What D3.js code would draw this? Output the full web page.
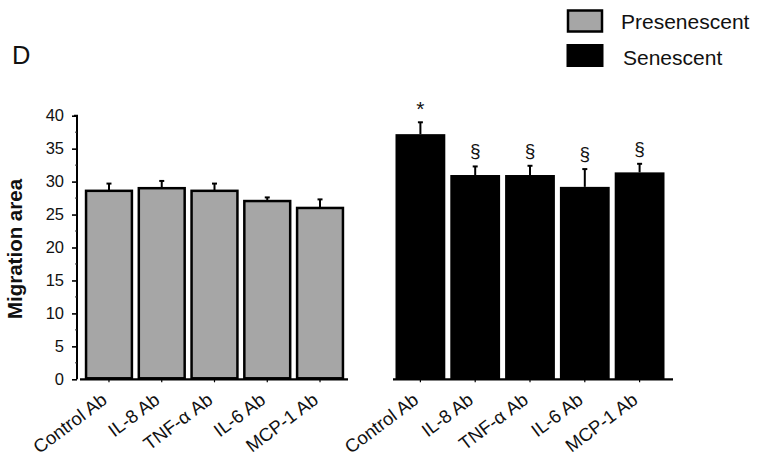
<!DOCTYPE html>
<html><head><meta charset="utf-8">
<script src="https://cdn.jsdelivr.net/npm/d3@7"></script>
<style>body{margin:0;background:#fff}svg{display:block}text{font-family:"Liberation Sans",Arial,sans-serif;fill:#111}</style>
</head><body><svg id="c" width="760" height="462"></svg>
<script>
const categories = ["Control Ab","IL-8 Ab","TNF-\u03b1 Ab","IL-6 Ab","MCP-1 Ab"];
const presenescent = [28.6, 29.0, 28.6, 27.05, 26.0];
const presenescentErr = [1.1, 1.1, 1.1, 0.55, 1.3];
const senescent = [37.2, 31.0, 31.0, 29.2, 31.4];
const senescentErr = [1.8, 1.3, 1.4, 2.7, 1.3];
const senescentMarks = ["*","\u00a7","\u00a7","\u00a7","\u00a7"];
const yTicks = [0,5,10,15,20,25,30,35,40];
const seriesNames = ["Presenescent","Senescent"];
const colors = ["#a6a6a6","#000000"];

const svg = d3.select("#c");
const y = d3.scaleLinear().domain([0,40]).range([379.3,115.7]);
const xL = d3.scaleBand().domain(categories).range([82.6,346.4]).padding(0);
const xR = d3.scaleBand().domain(categories).range([393,667]).padding(0);

// y axis
const yAxis = d3.axisLeft(y).tickValues(yTicks).tickSize(5).tickPadding(8).tickFormat(d3.format("d"));
const gy = svg.append("g").attr("transform","translate(77,0)").call(yAxis);
gy.select(".domain").attr("stroke","#000").attr("stroke-width",2).attr("d","M-3,"+y(40)+"H0V"+y(0));
gy.selectAll(".tick line").attr("stroke","#000").attr("stroke-width",1.6);
gy.selectAll(".tick text").attr("font-size",16.5).attr("fill","#111").attr("font-family","Liberation Sans, Arial, sans-serif");
// minor ticks
svg.append("g").selectAll("line").data(d3.range(2.5,40,5)).join("line")
  .attr("x1",75).attr("x2",77).attr("y1",d=>y(d)).attr("y2",d=>y(d)).attr("stroke","#333").attr("stroke-width",1);

svg.append("text").attr("transform","translate(22,249) rotate(-90)").attr("text-anchor","middle")
  .attr("font-size",20.5).attr("font-weight","bold").text("Migration area");

function panel(x, vals, errs, fill, stroked, lineX0, lineX1) {
  const g = svg.append("g");
  const gap = stroked ? 4.5 : 5;
  g.selectAll("rect").data(vals).join("rect")
    .attr("x",(d,i)=>x(categories[i]) + gap/2 + (stroked?1.2:0))
    .attr("width",x.bandwidth() - gap - (stroked?2.4:0))
    .attr("y",d=>y(d))
    .attr("height",d=>y(0)-y(d) - (stroked?1:0))
    .attr("fill",fill)
    .attr("stroke",stroked?"#000":"none").attr("stroke-width",2.5);
  // error bars
  g.selectAll("line.err").data(vals).join("line").attr("class","err")
    .attr("x1",(d,i)=>x(categories[i])+x.bandwidth()/2).attr("x2",(d,i)=>x(categories[i])+x.bandwidth()/2)
    .attr("y1",d=>y(d)).attr("y2",(d,i)=>y(d+errs[i]))
    .attr("stroke","#000").attr("stroke-width",2);
  g.selectAll("line.cap").data(vals).join("line").attr("class","cap")
    .attr("x1",(d,i)=>x(categories[i])+x.bandwidth()/2-2.5).attr("x2",(d,i)=>x(categories[i])+x.bandwidth()/2+2.5)
    .attr("y1",(d,i)=>y(d+errs[i])).attr("y2",(d,i)=>y(d+errs[i]))
    .attr("stroke","#000").attr("stroke-width",2);
  // x axis line
  g.append("line").attr("x1",lineX0).attr("x2",lineX1).attr("y1",y(0)).attr("y2",y(0)).attr("stroke","#000").attr("stroke-width",2.2);
  g.selectAll("line.xt").data(categories).join("line").attr("class","xt")
    .attr("x1",d=>x(d)+x.bandwidth()/2).attr("x2",d=>x(d)+x.bandwidth()/2)
    .attr("y1",y(0)).attr("y2",y(0)+3).attr("stroke","#000").attr("stroke-width",1.2);
  // labels
  g.selectAll("text.xl").data(categories).join("text").attr("class","xl")
    .attr("text-anchor","end").attr("font-size",18.5)
    .attr("transform",d=>"translate("+(x(d)+x.bandwidth()/2-9)+","+(y(0)+12)+") rotate(-37)")
    .attr("dy","0.75em")
    .text(d=>d);
  return g;
}
panel(xL, presenescent, presenescentErr, colors[0], true, 80, 348);
const gR = panel(xR, senescent, senescentErr, colors[1], false, 393, 673);
gR.selectAll("text.mk").data(senescent).join("text").attr("class","mk")
  .attr("text-anchor","middle").attr("font-size",(d,i)=>i===0?21:19)
  .attr("x",(d,i)=>xR(categories[i])+xR.bandwidth()/2)
  .attr("y",(d,i)=>y(d+senescentErr[i]) - (i===0?6:9))
  .text((d,i)=>senescentMarks[i]);

// Panel letter
svg.append("text").attr("x",12).attr("y",63.5).attr("font-size",25.5).text("D");

// legend
const lg = svg.append("g");
lg.append("rect").attr("x",568).attr("y",10.5).attr("width",34).attr("height",21).attr("fill",colors[0]).attr("stroke","#000").attr("stroke-width",2.5);
lg.append("rect").attr("x",566.5).attr("y",44).attr("width",37).attr("height",23).attr("fill",colors[1]);
lg.append("text").attr("x",621).attr("y",29).attr("font-size",21).text(seriesNames[0]);
lg.append("text").attr("x",623).attr("y",65).attr("font-size",21).text(seriesNames[1]);
</script></body></html>
